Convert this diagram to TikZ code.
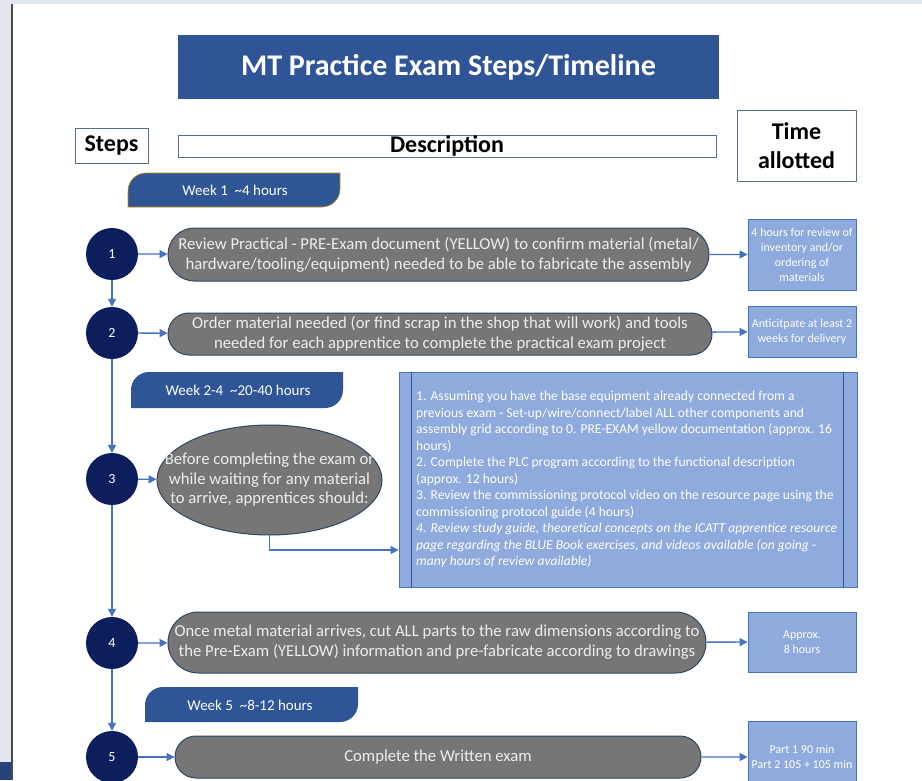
\documentclass[tikz,border=0pt]{standalone}
\usepackage{fontspec}
\setmainfont{Carlito}
\usepackage{tikz}
\usetikzlibrary{calc,positioning,arrows.meta,shapes.misc,shapes.geometric}
\definecolor{titleblue}{RGB}{47,85,151}
\definecolor{stepnavy}{RGB}{12,30,92}
\definecolor{pillgray}{RGB}{118,118,118}
\definecolor{pillline}{RGB}{47,70,100}
\definecolor{arrowblue}{RGB}{68,114,196}
\definecolor{timeblue}{RGB}{143,170,220}
\definecolor{tabgold}{RGB}{191,144,0}
\definecolor{boxline}{RGB}{90,110,140}
\definecolor{paleback}{RGB}{226,231,238}
\tikzstyle{header}   = [draw=boxline, line width=0.8pt, fill=white, font=\fontsize{24}{29}\selectfont\bfseries, align=center, inner sep=0pt]
\tikzstyle{stepnum}  = [circle, fill=stepnavy, minimum size=52pt, text=white, font=\fontsize{14}{16}\selectfont, inner sep=0pt]
\tikzstyle{task}     = [rounded rectangle, draw=pillline, line width=1pt, fill=pillgray, text=white!93!black, font=\fontsize{16.7}{20}\selectfont, align=center, inner sep=0pt]
\tikzstyle{timebox}  = [rectangle, draw=arrowblue, line width=0.8pt, fill=timeblue, text=white, font=\fontsize{12}{15}\selectfont, align=center, inner sep=0pt]
\tikzstyle{weektab}  = [fill=titleblue]
\tikzstyle{tabtext}  = [text=white, font=\fontsize{15}{17}\selectfont, inner sep=0pt]
\tikzstyle{arrow}    = [draw=arrowblue, line width=1.3pt, -{Triangle[width=8pt,length=8pt]}]
\begin{document}
\begin{tikzpicture}[x=1pt,y=1pt]
        \useasboundingbox (0,0) rectangle (922,-780);
        \clip (0,0) rectangle (922,-780);
        \fill[white] (0,0) rectangle (922,-780);
        \fill[paleback] (0,0) rectangle (922,-4);
        \fill[paleback] (0,0) rectangle (11,-780);
        \fill[titleblue!80!black] (0,-762) rectangle (11,-780);
        \draw[black!70, line width=1.5pt] (12,-4) -- (12,-780);

        \node[fill=titleblue, minimum width=541pt, minimum height=64pt, text=white, font=\fontsize{30}{34}\selectfont\bfseries] (title) at (448.5,-67) {MT Practice Exam Steps/Timeline};

        \node[header, minimum width=73pt, minimum height=35pt] (steps) at (111.5,-145.5) {Steps};
        \node[header, minimum width=538pt, minimum height=22pt] (descr) at (447,-146) {Description};
        \node[header, minimum width=119pt, minimum height=71pt] (time) at (796.5,-145.5) {Time\\allotted};

        % week tabs
        \draw[weektab, draw=tabgold, line width=0.6pt] (128,-207) -- (128,-191) arc[start angle=180, end angle=90, radius=18] -- (340,-173) -- (340,-189) arc[start angle=0, end angle=-90, radius=18] -- cycle;
        \fill[weektab] (131,-408) -- (131,-390) arc[start angle=180, end angle=90, radius=18] -- (343,-372) -- (343,-390) arc[start angle=0, end angle=-90, radius=18] -- cycle;
        \fill[weektab] (145,-722) -- (145,-705) arc[start angle=180, end angle=90, radius=18] -- (358,-687) -- (358,-704) arc[start angle=0, end angle=-90, radius=18] -- cycle;
        \node[tabtext] (week1) at (235,-190) {Week 1\ \ \textasciitilde4 hours};
        \node[tabtext] (week2) at (238,-390) {Week 2-4\ \ \textasciitilde20-40 hours};
        \node[tabtext] (week5) at (250,-705) {Week 5\ \ \textasciitilde8-12 hours};

        % steps
        \node[stepnum] (s1) at (112,-254) {1};
        \node[stepnum] (s2) at (112,-333) {2};
        \node[stepnum] (s3) at (112,-479) {3};
        \node[stepnum] (s4) at (112,-643) {4};
        \node[stepnum] (s5) at (112,-757) {5};

        \node[task, minimum width=541pt, minimum height=53pt] (task1) at (438.5,-254.5) {Review Practical - PRE-Exam document (YELLOW) to confirm material (metal/\\hardware/tooling/equipment) needed to be able to fabricate the assembly};
        \node[task, minimum width=544pt, minimum height=42pt] (task2) at (440,-334) {Order material needed (or find scrap in the shop that will work) and tools\\needed for each apprentice to complete the practical exam project};
        \node[task, ellipse, minimum width=225pt, minimum height=110pt] (task3) at (269.5,-480) {};
        \node[text=white!93!black, font=\fontsize{16.7}{19.5}\selectfont, align=center, inner sep=0pt] (task3text) at (task3) {Before completing the exam or\\while waiting for any material\\to arrive, apprentices should:};
        \node[task, minimum width=538pt, minimum height=61pt] (task4) at (437,-642.5) {Once metal material arrives, cut ALL parts to the raw dimensions according to\\the Pre-Exam (YELLOW) information and pre-fabricate according to drawings};
        \node[task, minimum width=526pt, minimum height=42pt] (task5) at (438,-757) {Complete the Written exam};

        \node[timebox, minimum width=108pt, minimum height=71pt] (time1) at (802,-254.5) {4 hours for review of\\inventory and/or\\ordering of\\materials};
        \node[timebox, minimum width=108pt, minimum height=51pt] (time2) at (802,-331.5) {Anticitpate at least 2\\weeks for delivery};
        \node[timebox, minimum width=108pt, minimum height=60pt] (time4) at (802,-642) {Approx.\\8 hours};
        \node[timebox, minimum width=108pt, minimum height=72pt] (time5) at (802,-757) {Part 1 90 min\\Part 2 105 + 105 min};

        \node[timebox, minimum width=458pt, minimum height=215pt] (plan) at (628,-479.5) {};
        \draw[titleblue, line width=0.8pt] ($(plan.north west)+(13,0)$) -- ($(plan.south west)+(13,0)$);
        \draw[titleblue, line width=0.8pt] ($(plan.north east)+(-14,0)$) -- ($(plan.south east)+(-14,0)$);
        \node[anchor=west, align=left, text=white, font=\fontsize{13.6}{16.5}\selectfont, inner sep=0pt] (plantext) at (416,-479.5) {1. Assuming you have the base equipment already connected from a\\previous exam - Set-up/wire/connect/label ALL other components and\\assembly grid according to 0. PRE-EXAM yellow documentation (approx. 16\\hours)\\2. Complete the PLC program according to the functional description\\(approx. 12 hours)\\3. Review the commissioning protocol video on the resource page using the\\commissioning protocol guide (4 hours)\\\itshape 4. Review study guide, theoretical concepts on the ICATT apprentice resource\\\itshape page regarding the BLUE Book exercises, and videos available (on going -\\\itshape many hours of review available)};

        \coordinate (elbow) at (270,-550);
        \draw[arrow] (s1) -- (s2);
        \draw[arrow] (s2) -- (s3);
        \draw[arrow] (s3) -- (s4);
        \draw[arrow] (s4) -- (s5);
        \draw[arrow] (s1) -- (task1);
        \draw[arrow] (s2) -- (task2);
        \draw[arrow] (s3) -- (task3);
        \draw[arrow] (s4) -- (task4);
        \draw[arrow] (s5) -- (task5);
        \draw[arrow] (task1) -- (time1);
        \draw[arrow] (task2) -- (time2);
        \draw[arrow] (task4) -- (time4);
        \draw[arrow] (task5) -- (time5);
        \draw[arrow] (task3.south) |- (plan.west |- elbow);
    \end{tikzpicture}
\end{document}
